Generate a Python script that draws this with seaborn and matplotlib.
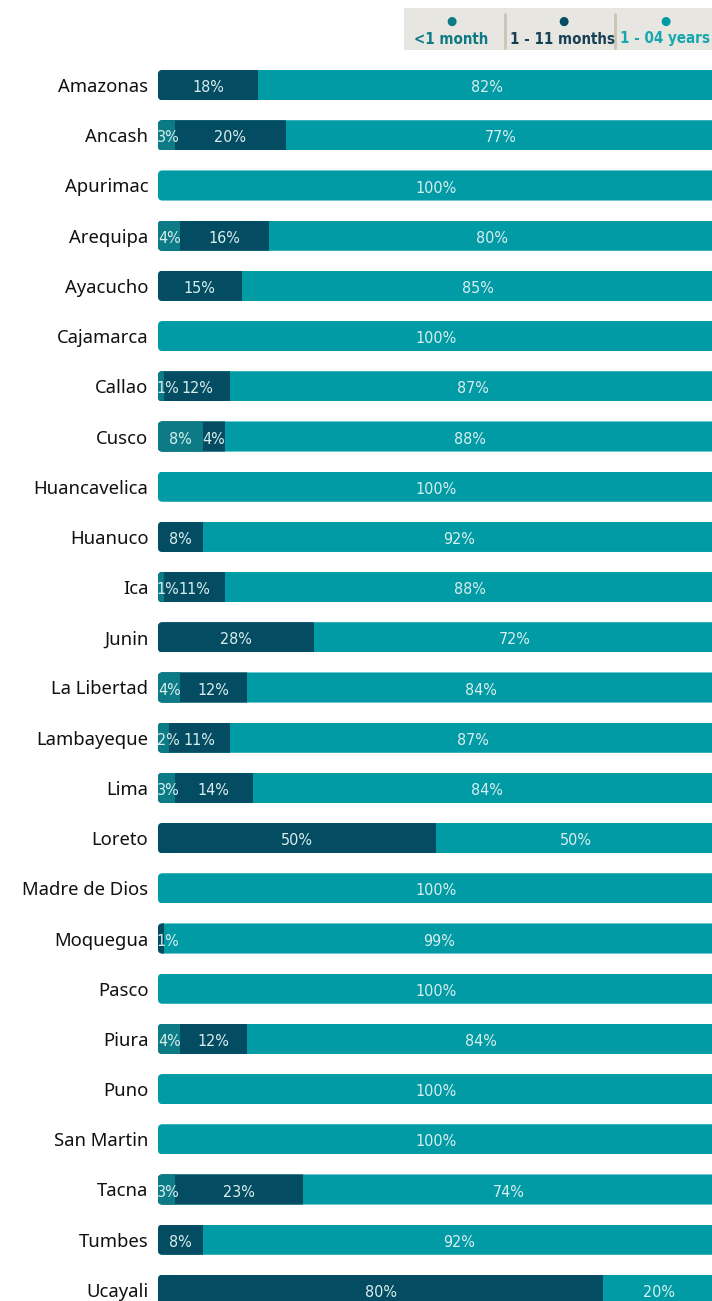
import matplotlib
matplotlib.use("Agg")
import matplotlib.pyplot as plt
from matplotlib.patches import FancyBboxPatch
import numpy as np
import pandas as pd
import seaborn as sns

regions = ["Amazonas", "Ancash", "Apurimac", "Arequipa", "Ayacucho", "Cajamarca",
           "Callao", "Cusco", "Huancavelica", "Huanuco", "Ica", "Junin",
           "La Libertad", "Lambayeque", "Lima", "Loreto", "Madre de Dios",
           "Moquegua", "Pasco", "Piura", "Puno", "San Martin", "Tacna",
           "Tumbes", "Ucayali"]
under_1_month = [0, 3, 0, 4, 0, 0, 1, 8, 0, 0, 1, 0, 4, 2, 3, 0, 0, 0, 0, 4, 0, 0, 3, 0, 0]
months_1_11 = [18, 20, 0, 16, 15, 0, 12, 4, 0, 8, 11, 28, 12, 11, 14, 50, 0, 1, 0, 12, 0, 0, 23, 8, 80]
years_1_04 = [82, 77, 100, 80, 85, 100, 87, 88, 100, 92, 88, 72, 84, 87, 84, 50, 100, 99, 100, 84, 100, 100, 74, 92, 20]

series_names = ["<1 month", "1 - 11 months", "1 - 04 years"]
colors = ["#0d7b85", "#034c62", "#009ba5"]
legend_text_colors = ["#0e7a86", "#173f55", "#15a7ae"]

df = pd.DataFrame({"region": regions, "u1": under_1_month,
                   "m111": months_1_11, "y104": years_1_04})
df["c1"] = df["u1"]
df["c2"] = df["u1"] + df["m111"]
df["c3"] = df["c2"] + df["y104"]

sns.set_style("white")
plt.rcParams["font.family"] = ["Noto Sans", "DejaVu Sans"]

fig = plt.figure(figsize=(7.12, 13.01), dpi=100)
ax = fig.add_axes([158 / 712, 1 - 1315 / 1301, 1 - 158 / 712, 1255 / 1301])

# stacked bars drawn as overlapping cumulative layers
for col, color in zip(["c3", "c2", "c1"], colors[::-1]):
    sns.barplot(data=df, x=col, y="region", orient="h", color=color,
                width=0.6, ax=ax, saturation=1, linewidth=0)

ax.set_xlim(0, 99.5)
ax.set_ylim(len(regions) - 0.5, -0.5)

# rounded left ends: clip every bar with a rounded box for its row
aspect = (1255 / 25) / (554 / 99.5)
for bar in ax.patches:
    clip = FancyBboxPatch((0, bar.get_y()), 110, bar.get_height(),
                          boxstyle="round,pad=0,rounding_size=0.8",
                          mutation_aspect=1 / aspect, transform=ax.transData,
                          facecolor="none", edgecolor="none")
    bar.set_clip_path(clip)

ax.set_xlabel("")
ax.set_ylabel("")
ax.set_xticks([])
ax.tick_params(axis="y", length=0, pad=7, labelsize=13.3, labelcolor="#111111")
sns.despine(ax=ax, left=True, bottom=True)

label_font = dict(family="DejaVu Sans", stretch="condensed", fontsize=11.5,
                  color="#d9eeee", va="center", ha="center")
for i, row in df.iterrows():
    left = 0
    for val in [row["u1"], row["m111"], row["y104"]]:
        if val > 0:
            x = max(left + val / 2, left + 1.8)
            ax.text(x, i + 0.05, f"{val}%", **label_font)
        left += val

# legend box at the top right
lx0, ly0, lw, lh = 404 / 712, 1 - 50 / 1301, 308 / 712, 42 / 1301
fig.patches.append(plt.Rectangle((lx0, ly0), lw, lh, transform=fig.transFigure,
                                 facecolor="#e8e6e1", edgecolor="none"))
item_x = [451, 563, 665]
for name, x, c, tc in zip(series_names, item_x, colors, legend_text_colors):
    fig.text(x / 712, 1 - 21 / 1301, "●", color=c, fontsize=8.5,
             ha="center", va="center")
    fig.text(x / 712, 1 - 39 / 1301, name, color=tc, fontsize=10.8,
             fontweight="bold", ha="center", va="center",
             family="DejaVu Sans", stretch="condensed")
for sx in [505, 615]:
    fig.add_artist(plt.Line2D([sx / 712, sx / 712], [1 - 14 / 1301, 1 - 48 / 1301],
                              transform=fig.transFigure, color="#c9c5b5", lw=2))

fig.savefig("out.png", dpi=100)
